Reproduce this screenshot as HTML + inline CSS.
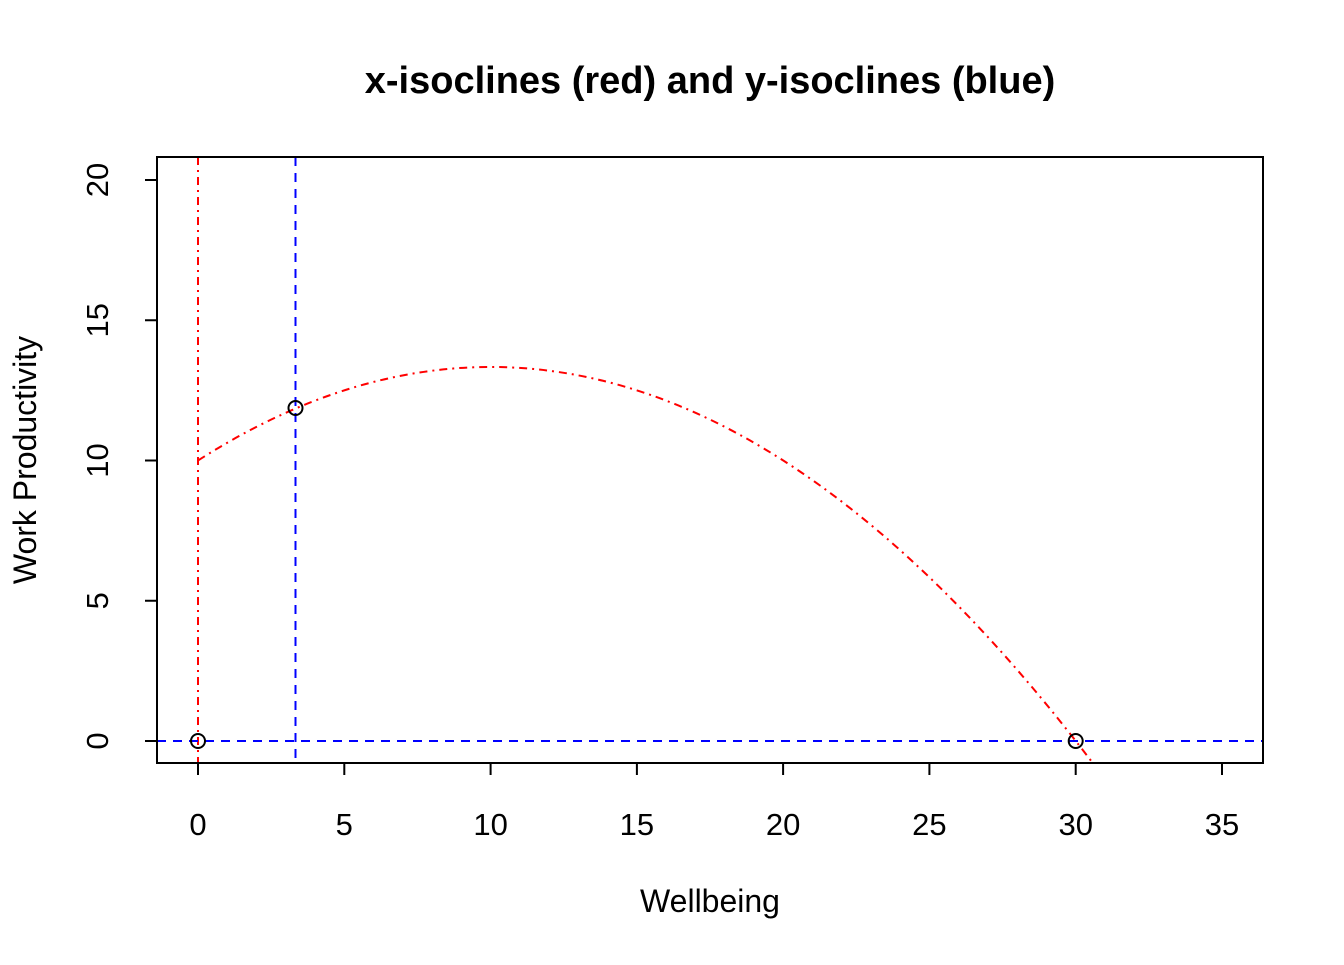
<!DOCTYPE html>
<html><head><meta charset="utf-8"><style>
html,body{margin:0;padding:0;background:#fff;}
svg text{font-family:"Liberation Sans",Arial,sans-serif;}
</style></head><body>
<svg width="1344" height="960" xmlns="http://www.w3.org/2000/svg">
<defs><clipPath id="c"><rect x="157" y="157" width="1106" height="606"/></clipPath></defs>
<text x="710" y="93" text-anchor="middle" font-size="38" font-weight="bold">x-isoclines (red) and y-isoclines (blue)</text>
<g clip-path="url(#c)" fill="none" stroke-width="2">
<path d="M198,460.5 Q651.5,170.6 1105,779.3" stroke="#ff0000" stroke-dasharray="8,5,2,5"/>
<line x1="198" y1="157" x2="198" y2="763" stroke="#ff0000" stroke-dasharray="8,5,2,5"/>
<line x1="295.5" y1="157" x2="295.5" y2="763" stroke="#0000ff" stroke-dasharray="9,7"/>
<line x1="157" y1="741" x2="1263" y2="741" stroke="#0000ff" stroke-dasharray="9,7"/>
</g>
<g fill="none" stroke="#000" stroke-width="2">
<circle cx="198" cy="741" r="7"/>
<circle cx="295.5" cy="408" r="7"/>
<circle cx="1075.7" cy="741" r="7"/>
<rect x="157" y="157" width="1106" height="606"/>
<path d="M198,763v12M344.3,763v12M490.6,763v12M636.9,763v12M783.1,763v12M929.4,763v12M1075.7,763v12M1222,763v12"/>
<path d="M157,741h-12M157,600.8h-12M157,460.5h-12M157,320.3h-12M157,180h-12"/>
</g>
<g font-size="31" text-anchor="middle">
<text x="198" y="835">0</text><text x="344.3" y="835">5</text><text x="490.6" y="835">10</text><text x="636.9" y="835">15</text><text x="783.1" y="835">20</text><text x="929.4" y="835">25</text><text x="1075.7" y="835">30</text><text x="1222" y="835">35</text>
<text transform="translate(108,741) rotate(-90)">0</text>
<text transform="translate(108,600.8) rotate(-90)">5</text>
<text transform="translate(108,460.5) rotate(-90)">10</text>
<text transform="translate(108,320.3) rotate(-90)">15</text>
<text transform="translate(108,180) rotate(-90)">20</text>
</g>
<g font-size="32" text-anchor="middle">
<text x="710" y="912">Wellbeing</text>
<text transform="translate(36,460) rotate(-90)">Work Productivity</text>
</g>
</svg>
</body></html>
